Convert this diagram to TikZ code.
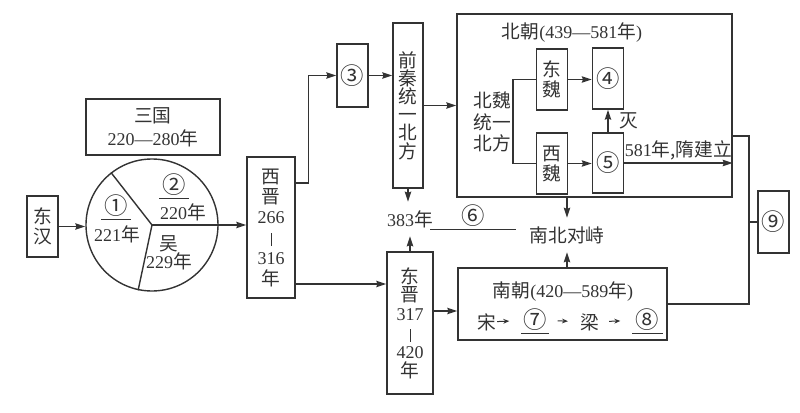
\documentclass[tikz,border=0pt]{standalone}
\usepackage{fontspec}
\setmainfont{Liberation Serif}
\newfontfamily\cjk[Scale=1.04]{Noto Sans CJK SC}
\newfontfamily\circd[Scale=1.3]{Noto Sans CJK SC}
\usetikzlibrary{arrows.meta}

\begin{document}
\begin{tikzpicture}[x=0.5pt, y=-0.5pt, color=black!80, line width=0.7pt,
    font=\fontsize{9}{10}\selectfont,
    box/.style={rectangle, draw, inner sep=0pt, align=center, minimum width=15.5pt},
    txt/.style={inner sep=0pt, align=center},
    blank/.style={inner xsep=0pt, inner ysep=1pt, minimum width=14pt},
    arr/.style={-{Stealth[length=5pt, width=3.2pt, inset=0.6pt]}},
    sarr/.style={-{Stealth[length=3pt, width=2.4pt]}, line width=0.5pt, shorten >=6pt}
]
    \useasboundingbox (0,0) rectangle (800,413);

    % Eastern Han and Three Kingdoms
    \node[box, minimum height=30.5pt] (dh) at (42.5,226.5) {{\cjk 东}\\{\cjk 汉}};
    \node[box, minimum width=67pt, minimum height=28pt, font=\fontsize{9}{11.5}\selectfont] (sgbox) at (153,127) {{\cjk 三国}\\220—280{\cjk 年}};
    \node[circle, draw, inner sep=0pt, minimum size=66pt] (sg) at (152,225) {};
    \draw (sg.center) -- (sg.128);
    \draw (sg.center) -- (sg.258);
    \node[blank] (q1) at (116,206) {\circd ①};
    \node[txt] (y221) at (117,234) {221{\cjk 年}};
    \node[blank] (q2) at (174,185) {\circd ②};
    \node[txt] (y220) at (183,212) {220{\cjk 年}};
    \node[txt, font=\fontsize{9}{9}\selectfont] (wu) at (169,253) {{\cjk 吴}\\229{\cjk 年}};
    \draw[line width=0.5pt] (q1.south west) -- (q1.south east);
    \draw[line width=0.5pt] (q2.south west) -- (q2.south east);

    % Western and Eastern Jin
    \node[box, minimum width=24pt, minimum height=70.5pt, font=\fontsize{9}{10.2}\selectfont] (xj) at (271,227.5) {{\cjk 西}\\{\cjk 晋}\\266\\\rule[-1pt]{0.5pt}{6.5pt}\\316\\{\cjk 年}};
    \node[box, minimum width=23pt, minimum height=71pt, font=\fontsize{9}{9.4}\selectfont] (dj) at (410,323) {{\cjk 东}\\{\cjk 晋}\\317\\\rule[-1pt]{0.5pt}{6.5pt}\\420\\{\cjk 年}};

    % Former Qin
    \node[box, minimum height=31.5pt] (s3) at (352.5,75.5) {\circd ③};
    \node[box, minimum width=15pt, minimum height=82.5pt, font=\fontsize{9}{9.1}\selectfont] (qq) at (408,105.5) {{\cjk 前}\\{\cjk 秦}\\{\cjk 统}\\{\cjk 一}\\{\cjk 北}\\{\cjk 方}};
    \node[txt, inner sep=4pt] (y383) at (410,219) {383{\cjk 年}};
    \node[blank, minimum width=42pt] (b6) at (473,216) {\circd ⑥};
    \draw[line width=0.5pt] (b6.south west) -- (b6.south east);

    % Northern dynasties
    \node[box, minimum width=137.5pt, minimum height=91.5pt] (bc) at (594.5,105.5) {};
    \node[txt] (bct) at (572,33) {{\cjk 北朝}(439—581{\cjk 年})};
    \node[txt, font=\fontsize{9}{10.75}\selectfont] (bw) at (492,122) {{\cjk 北魏}\\{\cjk 统一}\\{\cjk 北方}};
    \node[box, minimum height=30.5pt] (dw) at (552,79.5) {{\cjk 东}\\{\cjk 魏}};
    \node[box, minimum height=30.5pt] (xw) at (552,163.5) {{\cjk 西}\\{\cjk 魏}};
    \node[box, minimum height=30.5pt] (s4) at (608,78.5) {\circd ④};
    \node[box, minimum height=30pt] (s5) at (608,163) {\circd ⑤};
    \node[txt, inner sep=4pt] (dz) at (567,235) {\cjk 南北对峙};

    % Southern dynasties
    \node[box, minimum width=104.5pt, minimum height=36pt] (nc) at (562.5,304) {};
    \node[txt] (nct) at (563,292) {{\cjk 南朝}(420—589{\cjk 年})};
    \node[txt] (song) at (487,322) {\cjk 宋};
    \node[blank, minimum width=13pt] (b7) at (535,320) {\circd ⑦};
    \node[txt] (liang) at (590,322) {\cjk 梁};
    \node[blank, minimum width=14.5pt] (b8) at (647.5,320) {\circd ⑧};
    \draw[line width=0.5pt] (b7.south west) -- (b7.south east);
    \draw[line width=0.5pt] (b8.south west) -- (b8.south east);
    \node[box, minimum height=31pt] (s9) at (773.5,222) {\circd ⑨};

    % Connections
    \draw[arr] (dh.east) -- (dh.east -| sg.west);
    \draw[arr] (sg.center) -- (sg.center -| xj.west);
    \draw[arr] (xj.east |- 0,183) -- ++(13,0) |- (s3.west);
    \draw[arr] (s3.east) -- (s3.east -| qq.west);
    \draw[arr] (qq.east) -- (qq.east -| bc.west);
    \draw[arr] (xj.east |- 0,284) -- (dj.west |- 0,284);
    \draw[arr] (qq.south) -- (qq.south |- y383.north);
    \draw[arr] (dj.north) -- (y383.south);
    \draw[arr] (dj.east |- 0,311) -- (nc.west |- 0,311);
    \draw (dw.west) -- ++(-23,0) |- (xw.west);
    \draw[arr] (dw.east) -- (dw.east -| s4.west);
    \draw[arr] (xw.east) -- (xw.east -| s5.west);
    \draw[arr] (s5.north) -- (s4.south) node[midway, right, xshift=2pt] {\cjk 灭};
    \draw[arr] (s5.east) -- (s5.east -| bc.east) node[midway, above, inner sep=1pt] {581{\cjk 年,隋建立}};
    \draw[arr] (dz.north |- bc.south) -- (dz.north);
    \draw[arr] (dz.south |- nc.north) -- (dz.south);
    \coordinate (sui) at (749,136);
    \draw (bc.east |- sui) -- (sui) |- (nc.east);
    \draw (s9.west) -- (s9.west -| sui);
    \draw[sarr] (song) -- (b7);
    \draw[sarr, shorten <=4.5pt] (b7) -- (liang);
    \draw[sarr, shorten <=4.5pt] (liang) -- (b8);
\end{tikzpicture}
\end{document}
